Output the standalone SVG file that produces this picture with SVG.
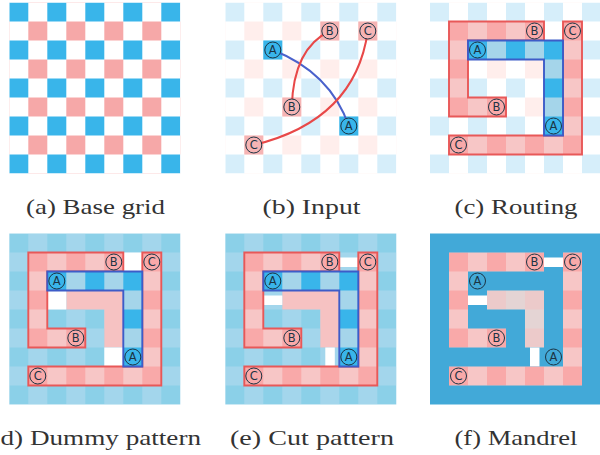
<svg xmlns="http://www.w3.org/2000/svg" xmlns:xlink="http://www.w3.org/1999/xlink" width="600" height="455" viewBox="0 0 600 455">
<style>
.cap{font-family:"Liberation Serif","Times New Roman",serif;font-size:22px;fill:#333;text-anchor:start}
.n circle{stroke:#1c3444;stroke-width:1;fill:none}
.n text{font-family:"DejaVu Sans",sans-serif;font-size:11.5px;fill:#1c3444;text-anchor:middle}
.a circle{fill:#39b5ea}.b circle{fill:#f6b4b4}
.rr{stroke:#e85858;stroke-width:1.9}
.br{stroke:#3d5cc8;stroke-width:1.9}
.cr{fill:none;stroke-width:2}
</style>
<defs>
<pattern id="base" width="38" height="38" patternUnits="userSpaceOnUse"><rect width="19" height="19" fill="#39b5ea"/><rect x="19" y="19" width="19" height="19" fill="#f6a8a8"/></pattern>
<pattern id="faint" width="38" height="38" patternUnits="userSpaceOnUse"><rect width="19" height="19" fill="#d6eefa"/><rect x="19" y="19" width="19" height="19" fill="#ffeeec"/></pattern>
<pattern id="redp" width="38" height="38" patternUnits="userSpaceOnUse"><rect width="38" height="38" fill="#f7c6c6"/><rect x="19" y="19" width="19" height="19" fill="#f9a9a9"/></pattern>
<pattern id="bluep" width="38" height="38" patternUnits="userSpaceOnUse"><rect width="38" height="38" fill="#a5d5ea"/><rect width="19" height="19" fill="#39b5ea"/></pattern>
<pattern id="bg" width="38" height="38" patternUnits="userSpaceOnUse"><rect width="38" height="38" fill="#a3d6ec"/><rect width="19" height="19" fill="#8bd0e8"/><rect x="19" y="19" width="19" height="19" fill="#8bd0e8"/></pattern>
<pattern id="dumf" width="38" height="38" patternUnits="userSpaceOnUse"><rect width="38" height="38" fill="#e4d4d4"/><rect x="19" y="19" width="19" height="19" fill="#eccaca"/></pattern>
<polygon id="rb" points="19,19 114,19 114,38 38,38 38,95 76,95 76,114 19,114"/>
<polygon id="rc" points="133,19 152,19 152,152 19,152 19,133 133,133"/>
<polygon id="ra" points="38,38 133,38 133,133 114,133 114,57 38,57"/>
<polygon id="dum" points="57,57 114,57 114,114 95,114 95,76 57,76"/>
</defs>

<g id="panel-a" transform="translate(9.3 2.5)"><rect width="171" height="171" fill="url(#base)"/></g>
<text class="cap" x="26" y="214" textLength="139" lengthAdjust="spacingAndGlyphs">(a) Base grid</text>

<g id="panel-b" transform="translate(225.3 2.5)">
<rect width="171" height="171" fill="url(#faint)"/>
<rect x="38" y="38" width="19" height="19" fill="#39b5ea"/><rect x="114" y="114" width="19" height="19" fill="#39b5ea"/>
<rect x="95" y="19" width="19" height="19" fill="#f6b4b4"/><rect x="57" y="95" width="19" height="19" fill="#f6b4b4"/>
<rect x="133" y="19" width="19" height="19" fill="#f6b4b4"/><rect x="19" y="133" width="19" height="19" fill="#f6b4b4"/>
<g id="b-connectors">
<path class="cr" stroke="#4a62cc" d="M47.5 47.5Q105 70 123.5 123.5"/>
<path class="cr" stroke="#e84848" d="M104.5 28.5Q68 46 66.5 104.5"/>
<path class="cr" stroke="#e84848" d="M142.5 28.5Q130 118 28.5 142.5"/>
</g>
<g id="b-a1" class="n a"><circle cx="47.5" cy="47.5" r="8"/><text x="47.5" y="51.7">A</text></g>
<g id="b-a2" class="n a"><circle cx="123.5" cy="123.5" r="8"/><text x="123.5" y="127.7">A</text></g>
<g id="b-b1" class="n b"><circle cx="104.5" cy="28.5" r="8"/><text x="104.5" y="32.7">B</text></g>
<g id="b-b2" class="n b"><circle cx="66.5" cy="104.5" r="8"/><text x="66.5" y="108.7">B</text></g>
<g id="b-c1" class="n b"><circle cx="142.5" cy="28.5" r="8"/><text x="142.5" y="32.7">C</text></g>
<g id="b-c2" class="n b"><circle cx="28.5" cy="142.5" r="8"/><text x="28.5" y="146.7">C</text></g>
</g>
<text class="cap" x="262.5" y="214" textLength="98" lengthAdjust="spacingAndGlyphs">(b) Input</text>

<g id="panel-c" transform="translate(430 2.5)">
<rect width="171" height="171" fill="url(#faint)"/>
<g id="c-connectors">
<use xlink:href="#rb" href="#rb" fill="url(#redp)" class="rr"/>
<use xlink:href="#rc" href="#rc" fill="url(#redp)" class="rr"/>
<use xlink:href="#ra" href="#ra" fill="url(#bluep)" class="br"/>
</g>
<g id="c-a1" class="n"><circle cx="47.5" cy="47.5" r="8"/><text x="47.5" y="51.7">A</text></g>
<g id="c-a2" class="n"><circle cx="123.5" cy="123.5" r="8"/><text x="123.5" y="127.7">A</text></g>
<g id="c-b1" class="n"><circle cx="104.5" cy="28.5" r="8"/><text x="104.5" y="32.7">B</text></g>
<g id="c-b2" class="n"><circle cx="66.5" cy="104.5" r="8"/><text x="66.5" y="108.7">B</text></g>
<g id="c-c1" class="n"><circle cx="142.5" cy="28.5" r="8"/><text x="142.5" y="32.7">C</text></g>
<g id="c-c2" class="n"><circle cx="28.5" cy="142.5" r="8"/><text x="28.5" y="146.7">C</text></g>
</g>
<text class="cap" x="454.5" y="214" textLength="123" lengthAdjust="spacingAndGlyphs">(c) Routing</text>

<g id="panel-d" transform="translate(9.3 233.5)">
<rect width="171" height="171" fill="url(#bg)"/>
<use xlink:href="#dum" href="#dum" fill="#f6c2c2"/>
<rect x="114" y="19" width="19" height="19" fill="#fff"/><rect x="38" y="57" width="19" height="19" fill="#fff"/><rect x="95" y="114" width="19" height="19" fill="#fff"/>
<g id="d-connectors">
<use xlink:href="#rb" href="#rb" fill="url(#redp)" class="rr"/>
<use xlink:href="#rc" href="#rc" fill="url(#redp)" class="rr"/>
<use xlink:href="#ra" href="#ra" fill="url(#bluep)" class="br"/>
</g>
<g id="d-a1" class="n"><circle cx="47.5" cy="47.5" r="8"/><text x="47.5" y="51.7">A</text></g>
<g id="d-a2" class="n"><circle cx="123.5" cy="123.5" r="8"/><text x="123.5" y="127.7">A</text></g>
<g id="d-b1" class="n"><circle cx="104.5" cy="28.5" r="8"/><text x="104.5" y="32.7">B</text></g>
<g id="d-b2" class="n"><circle cx="66.5" cy="104.5" r="8"/><text x="66.5" y="108.7">B</text></g>
<g id="d-c1" class="n"><circle cx="142.5" cy="28.5" r="8"/><text x="142.5" y="32.7">C</text></g>
<g id="d-c2" class="n"><circle cx="28.5" cy="142.5" r="8"/><text x="28.5" y="146.7">C</text></g>
</g>
<text class="cap" x="0.5" y="445" textLength="200.5" lengthAdjust="spacingAndGlyphs">d) Dummy pattern</text>

<g id="panel-e" transform="translate(225.3 233.5)">
<rect width="171" height="171" fill="url(#bg)"/>
<use xlink:href="#dum" href="#dum" fill="#f6c2c2"/>
<rect x="114" y="24" width="19" height="9.5" fill="#fff"/><rect x="38" y="62" width="19" height="9.5" fill="#fff"/><rect x="100" y="114" width="9.5" height="19" fill="#fff"/>
<g id="e-connectors">
<use xlink:href="#rb" href="#rb" fill="url(#redp)" class="rr"/>
<use xlink:href="#rc" href="#rc" fill="url(#redp)" class="rr"/>
<use xlink:href="#ra" href="#ra" fill="url(#bluep)" class="br"/>
</g>
<g id="e-a1" class="n"><circle cx="47.5" cy="47.5" r="8"/><text x="47.5" y="51.7">A</text></g>
<g id="e-a2" class="n"><circle cx="123.5" cy="123.5" r="8"/><text x="123.5" y="127.7">A</text></g>
<g id="e-b1" class="n"><circle cx="104.5" cy="28.5" r="8"/><text x="104.5" y="32.7">B</text></g>
<g id="e-b2" class="n"><circle cx="66.5" cy="104.5" r="8"/><text x="66.5" y="108.7">B</text></g>
<g id="e-c1" class="n"><circle cx="142.5" cy="28.5" r="8"/><text x="142.5" y="32.7">C</text></g>
<g id="e-c2" class="n"><circle cx="28.5" cy="142.5" r="8"/><text x="28.5" y="146.7">C</text></g>
</g>
<text class="cap" x="230" y="445" textLength="164" lengthAdjust="spacingAndGlyphs">(e) Cut pattern</text>

<g id="panel-f" transform="translate(430 233.5)">
<rect width="171" height="171" fill="#42a9d8"/>
<use xlink:href="#dum" href="#dum" fill="url(#dumf)"/>
<rect x="114" y="24" width="19" height="9.5" fill="#fff"/><rect x="38" y="62" width="19" height="9.5" fill="#fff"/><rect x="100" y="114" width="9.5" height="19" fill="#fff"/>
<g id="f-shapes">
<use xlink:href="#rb" href="#rb" fill="url(#redp)"/>
<use xlink:href="#rc" href="#rc" fill="url(#redp)"/>
</g>
<g id="f-a1" class="n"><circle cx="47.5" cy="47.5" r="8"/><text x="47.5" y="51.7">A</text></g>
<g id="f-a2" class="n"><circle cx="123.5" cy="123.5" r="8"/><text x="123.5" y="127.7">A</text></g>
<g id="f-b1" class="n"><circle cx="104.5" cy="28.5" r="8"/><text x="104.5" y="32.7">B</text></g>
<g id="f-b2" class="n"><circle cx="66.5" cy="104.5" r="8"/><text x="66.5" y="108.7">B</text></g>
<g id="f-c1" class="n"><circle cx="142.5" cy="28.5" r="8"/><text x="142.5" y="32.7">C</text></g>
<g id="f-c2" class="n"><circle cx="28.5" cy="142.5" r="8"/><text x="28.5" y="146.7">C</text></g>
</g>
<text class="cap" x="454.5" y="445" textLength="123" lengthAdjust="spacingAndGlyphs">(f) Mandrel</text>
</svg>
